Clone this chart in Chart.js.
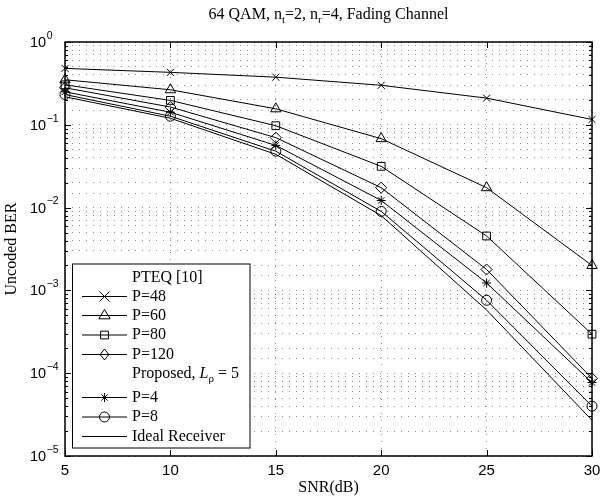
<!DOCTYPE html>
<html>
<head>
<meta charset="utf-8">
<script src="https://cdn.jsdelivr.net/npm/chart.js@4.4.1/dist/chart.umd.min.js"></script>
<style>
  html, body { margin: 0; padding: 0; background: #fff; }
  canvas { display: block; }
</style>
</head>
<body>
<canvas id="berChart" width="601" height="497"></canvas>
<script>
// SNR in dB on the x axis
const snr = [5, 10, 15, 20, 25, 30];

// PTEQ [10]
const p48 = [0.48, 0.43, 0.376, 0.30, 0.21, 0.116];
const p60 = [0.35, 0.265, 0.156, 0.068, 0.0174, 0.0020];
const p80 = [0.304, 0.197, 0.0975, 0.0315, 0.00454, 0.000296];
const p120 = [0.28, 0.164, 0.070, 0.0174, 0.00179, 0.0000866];

// Proposed, L_rho = 5
const p4 = [0.25, 0.142, 0.0564, 0.0122, 0.00123, 0.000077];
const p8 = [0.232, 0.127, 0.048, 0.0090, 0.00076, 0.000040];
const ideal = [0.218, 0.12, 0.044, 0.0080, 0.00058, 0.000027];

const seriesLabels = ['P=48', 'P=60', 'P=80', 'P=120', 'P=4', 'P=8', 'Ideal Receiver'];
const seriesValues = [p48, p60, p80, p120, p4, p8, ideal];
const markers = ['crossRot', 'triangle', 'rect', 'rectRot', 'star', 'circle', false];
const markerSizes = [5, 6, 5.5, 5.5, 4.5, 5, 0];

const xTicks = [5, 10, 15, 20, 25, 30];
const yExponents = [0, -1, -2, -3, -4, -5];

const serif = '"Liberation Serif", "Times New Roman", serif';
const sans = '"Liberation Sans", Arial, sans-serif';

const datasets = seriesValues.map((vals, i) => ({
  label: seriesLabels[i],
  data: snr.map((x, j) => ({ x, y: vals[j] })),
  borderColor: '#000',
  borderWidth: 1,
  backgroundColor: 'transparent',
  pointStyle: markers[i] || 'circle',
  pointRadius: markers[i] ? markerSizes[i] : 0,
  pointBorderColor: '#000',
  pointBackgroundColor: 'transparent',
  pointBorderWidth: 1,
  tension: 0,
  clip: false
}));

// text runs with sub/superscripts
function richText(ctx, runs, x, y, align) {
  let total = 0;
  runs.forEach((r) => {
    ctx.font = `${r.italic ? 'italic ' : ''}${r.size}px ${r.family}`;
    r.w = ctx.measureText(r.t).width;
    total += r.w;
  });
  let cx = align === 'center' ? x - total / 2 : x;
  runs.forEach((r) => {
    ctx.font = `${r.italic ? 'italic ' : ''}${r.size}px ${r.family}`;
    ctx.fillText(r.t, cx, y + (r.dy || 0));
    cx += r.w;
  });
}

function drawMarker(ctx, style, x, y, r) {
  ctx.beginPath();
  if (style === 'crossRot') {
    ctx.moveTo(x - r, y - r); ctx.lineTo(x + r, y + r);
    ctx.moveTo(x + r, y - r); ctx.lineTo(x - r, y + r);
  } else if (style === 'triangle') {
    ctx.moveTo(x, y - r); ctx.lineTo(x + r * 0.95, y + r * 0.55); ctx.lineTo(x - r * 0.95, y + r * 0.55); ctx.closePath();
  } else if (style === 'rect') {
    const s = r * Math.SQRT1_2;
    ctx.rect(x - s, y - s, 2 * s, 2 * s);
  } else if (style === 'rectRot') {
    ctx.moveTo(x, y - r); ctx.lineTo(x + r * 0.8, y); ctx.lineTo(x, y + r); ctx.lineTo(x - r * 0.8, y); ctx.closePath();
  } else if (style === 'star') {
    ctx.moveTo(x - r, y); ctx.lineTo(x + r, y);
    ctx.moveTo(x, y - r); ctx.lineTo(x, y + r);
    const d = r * Math.SQRT1_2;
    ctx.moveTo(x - d, y - d); ctx.lineTo(x + d, y + d);
    ctx.moveTo(x + d, y - d); ctx.lineTo(x - d, y + d);
  } else if (style === 'circle') {
    ctx.arc(x, y, r, 0, Math.PI * 2);
  }
  ctx.stroke();
}

const framePlugin = {
  id: 'frame',
  afterDraw(chart) {
    const { ctx, chartArea: a, scales } = chart;
    const xs = scales.x;
    const ys = scales.y;
    ctx.save();
    ctx.strokeStyle = '#000';
    ctx.fillStyle = '#000';

    // inward tick marks
    ctx.lineWidth = 1;
    ctx.beginPath();
    yExponents.forEach((e) => {
      for (let m = 1; m <= 9; m++) {
        if (e === 0 && m > 1) break;
        const py = Math.round(ys.getPixelForValue(m * Math.pow(10, e))) + 0.5;
        const len = m === 1 ? 6 : 3;
        ctx.moveTo(a.left, py); ctx.lineTo(a.left + len, py);
        ctx.moveTo(a.right, py); ctx.lineTo(a.right - len, py);
      }
    });
    xTicks.forEach((t) => {
      const px = Math.round(xs.getPixelForValue(t)) + 0.5;
      ctx.moveTo(px, a.bottom); ctx.lineTo(px, a.bottom - 6);
      ctx.moveTo(px, a.top); ctx.lineTo(px, a.top + 6);
    });
    ctx.stroke();

    // axes box
    ctx.lineWidth = 1.5;
    ctx.strokeRect(a.left, a.top, a.right - a.left, a.bottom - a.top);

    // y tick labels 10^k
    ctx.textBaseline = 'middle';
    ctx.textAlign = 'left';
    yExponents.forEach((e) => {
      const py = ys.getPixelForValue(Math.pow(10, e));
      ctx.font = `14.5px ${sans}`;
      ctx.fillText('10', 30, py + 1);
      const w = ctx.measureText('10').width;
      ctx.font = `10.5px ${sans}`;
      ctx.fillText(e === 0 ? '0' : '\u2212' + (-e), 30 + w + 0.5, py - 6);
    });

    // x tick labels
    ctx.textAlign = 'center';
    ctx.font = `15px ${sans}`;
    xTicks.forEach((t) => {
      ctx.fillText(String(t), xs.getPixelForValue(t), 471);
    });

    // axis titles
    ctx.font = `16px ${serif}`;
    ctx.fillText('SNR(dB)', (a.left + a.right) / 2, 488);
    ctx.save();
    ctx.translate(12, (a.top + a.bottom) / 2);
    ctx.rotate(-Math.PI / 2);
    ctx.fillText('Uncoded BER', 0, 0);
    ctx.restore();

    // title
    ctx.textAlign = 'left';
    ctx.textBaseline = 'alphabetic';
    richText(ctx, [
      { t: '64 QAM, n', size: 16, family: serif },
      { t: 't', size: 11, family: serif, dy: 4 },
      { t: '=2, n', size: 16, family: serif },
      { t: 'r', size: 11, family: serif, dy: 4 },
      { t: '=4, Fading Channel', size: 16, family: serif }
    ], (a.left + a.right) / 2, 19, 'center');

    // legend
    const lx = 72.5, ly = 264, lw = 177.5, lh = 184;
    ctx.fillStyle = '#fff';
    ctx.fillRect(lx, ly, lw, lh);
    ctx.lineWidth = 1;
    ctx.strokeRect(lx, ly, lw, lh);
    ctx.fillStyle = '#000';
    const rows = [
      { header: 'pteq', y: 277.5 },
      { idx: 0, y: 296.5 },
      { idx: 1, y: 315.5 },
      { idx: 2, y: 335 },
      { idx: 3, y: 354.5 },
      { header: 'proposed', y: 374 },
      { idx: 4, y: 397.5 },
      { idx: 5, y: 417 },
      { idx: 6, y: 436.5 }
    ];
    const textX = 132;
    rows.forEach((row) => {
      ctx.textBaseline = 'middle';
      if (row.header === 'pteq') {
        ctx.font = `16px ${serif}`;
        ctx.fillText('PTEQ [10]', textX, row.y);
      } else if (row.header === 'proposed') {
        richText(ctx, [
          { t: 'Proposed, ', size: 16, family: serif },
          { t: 'L', size: 16, family: serif, italic: true },
          { t: '\u03c1', size: 11, family: serif, dy: 5 },
          { t: ' = 5', size: 16, family: serif }
        ], textX, row.y, 'left');
      } else {
        ctx.beginPath();
        ctx.moveTo(82, row.y); ctx.lineTo(127, row.y);
        ctx.stroke();
        if (markers[row.idx]) drawMarker(ctx, markers[row.idx], 104.5, row.y, markerSizes[row.idx]);
        ctx.font = `16px ${serif}`;
        ctx.fillText(seriesLabels[row.idx], textX, row.y);
      }
    });
    ctx.restore();
  }
};

new Chart(document.getElementById('berChart'), {
  type: 'line',
  data: { datasets },
  options: {
    responsive: false,
    animation: false,
    devicePixelRatio: 1,
    layout: { padding: { left: 65, right: 9, top: 42, bottom: 41 } },
    plugins: { legend: { display: false }, tooltip: { enabled: false }, title: { display: false } },
    scales: {
      x: {
        type: 'linear',
        min: 5,
        max: 30,
        ticks: { display: false, stepSize: 5 },
        grid: { color: 'rgba(0,0,0,0.45)', lineWidth: 1, drawTicks: false },
        border: { display: false, dash: [1, 6] },
        afterFit(s) { s.height = 0; }
      },
      y: {
        type: 'logarithmic',
        min: 1e-5,
        max: 1,
        ticks: { display: false },
        grid: { color: 'rgba(0,0,0,0.45)', lineWidth: 1, drawTicks: false },
        border: { display: false, dash: [1, 6] },
        afterFit(s) { s.width = 0; }
      }
    }
  },
  plugins: [framePlugin]
});
</script>
</body>
</html>
